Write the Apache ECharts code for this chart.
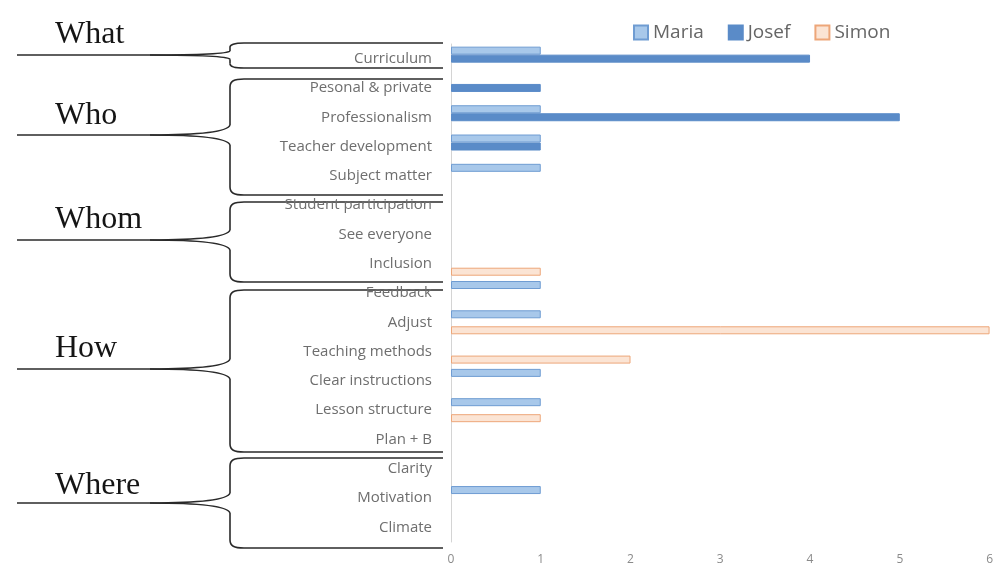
<!DOCTYPE html>
<html>
<head>
<meta charset="utf-8">
<script src="https://cdn.jsdelivr.net/npm/echarts@6/dist/echarts.min.js"></script>
<style>html,body{margin:0;padding:0;background:#fff}#c{width:996px;height:566px}</style>
</head>
<body>
<div id="c"></div>
<script>
var categories = ['Curriculum','Pesonal & private','Professionalism','Teacher development','Subject matter',
  'Student participation','See everyone','Inclusion','Feedback','Adjust','Teaching methods',
  'Clear instructions','Lesson structure','Plan + B','Clarity','Motivation','Climate'];
var maria = [1,null,1,1,1,null,null,null,1,1,null,1,1,null,null,1,null];
var josef = [4,1,5,1,null,null,null,null,null,null,null,null,null,null,null,null,null];
var simon = [null,null,null,null,null,null,null,1,null,6,2,null,1,null,null,null,null];
var xTicks = [0,1,2,3,4,5,6];
var groupNames = ['What','Who','Whom','How','Where'];

// decorative bracket geometry (pixels)
var braces = [
  {name:'What',  ty:32,  m:55,  t:43,  b:68},
  {name:'Who',   ty:113, m:135, t:79,  b:195},
  {name:'Whom',  ty:217, m:240, t:202, b:282},
  {name:'How',   ty:346, m:369, t:290, b:452},
  {name:'Where', ty:483, m:503, t:458, b:548}
];

function braceEls(g){
  var st = {stroke:'#2a2a2a', lineWidth:1.6, fill:null};
  var X = 230, L = 17, J = 150, R = 443;
  var d = Math.min(10,(g.m-g.t)/3), r = Math.min(8,(g.m-g.t)/3);
  var d2 = Math.min(10,(g.b-g.m)/3), r2 = Math.min(8,(g.b-g.m)/3);
  var els = [];
  els.push({type:'line', shape:{x1:L,y1:g.m,x2:J,y2:g.m}, style:st});
  els.push({type:'bezierCurve', shape:{x1:J,y1:g.m,cpx1:J+55,cpy1:g.m,cpx2:X-2,cpy2:g.m-d*0.4,x2:X,y2:g.m-d}, style:st});
  els.push({type:'bezierCurve', shape:{x1:J,y1:g.m,cpx1:J+55,cpy1:g.m,cpx2:X-2,cpy2:g.m+d2*0.4,x2:X,y2:g.m+d2}, style:st});
  els.push({type:'line', shape:{x1:X,y1:g.m-d,x2:X,y2:g.t+r}, style:st});
  els.push({type:'line', shape:{x1:X,y1:g.m+d2,x2:X,y2:g.b-r2}, style:st});
  els.push({type:'bezierCurve', shape:{x1:X,y1:g.t+r,cpx1:X,cpy1:g.t+2,cpx2:X+4,cpy2:g.t,x2:X+14,y2:g.t}, style:st});
  els.push({type:'bezierCurve', shape:{x1:X,y1:g.b-r2,cpx1:X,cpy1:g.b-2,cpx2:X+4,cpy2:g.b,x2:X+14,y2:g.b}, style:st});
  els.push({type:'line', shape:{x1:X+14,y1:g.t,x2:R,y2:g.t}, style:st});
  els.push({type:'line', shape:{x1:X+14,y1:g.b,x2:R,y2:g.b}, style:st});
  els.push({type:'text', left:55, top:g.ty-13, style:{text:g.name, font:'32px "Liberation Serif", serif', fill:'#151515'}});
  return els;
}
var graphics = [];
braces.forEach(function(g){ graphics = graphics.concat(braceEls(g)); });

var chart = echarts.init(document.getElementById('c'));
chart.setOption({
  backgroundColor:'#fff',
  animation:false,
  textStyle:{fontFamily:'"Open Sans", sans-serif'},
  legend:{
    top:18, left:628, itemWidth:14, itemHeight:14, itemGap:24, icon:'rect',
    textStyle:{fontSize:19, color:'#666', fontFamily:'"Open Sans", sans-serif'},
    data:['Maria','Josef','Simon']
  },
  grid:{left:451, right:4, top:44, bottom:24, containLabel:false},
  xAxis:{
    type:'value', min:0, max:6, interval:1,
    axisLine:{show:false}, axisTick:{show:false}, splitLine:{show:false},
    axisLabel:{color:'#8a8a8a', fontSize:12, margin:12, formatter:function(v){return xTicks.indexOf(v)>=0?String(v):'';}}
  },
  yAxis:{
    type:'category', inverse:true, data:categories,
    axisLine:{show:true, lineStyle:{color:'#d4d4d4', width:1}},
    axisTick:{show:false},
    axisLabel:{color:'#6e6e6e', fontSize:15, margin:19, padding:[6,0,0,0], fontFamily:'"Open Sans", sans-serif'}
  },
  series:[
    {name:'Maria', type:'bar', data:maria, barWidth:8, barGap:'0%',
     itemStyle:{color:'#a8c8ea', borderColor:'#6f9cd2', borderWidth:1}},
    {name:'Josef', type:'bar', data:josef, barWidth:8, barGap:'0%',
     itemStyle:{color:'#5a8bc8', borderColor:'#5a8bc8', borderWidth:1}},
    {name:'Simon', type:'bar', data:simon, barWidth:8, barGap:'0%',
     itemStyle:{color:'#fbe4d4', borderColor:'#eda679', borderWidth:1}}
  ],
  graphic:graphics
});
</script>
</body>
</html>
